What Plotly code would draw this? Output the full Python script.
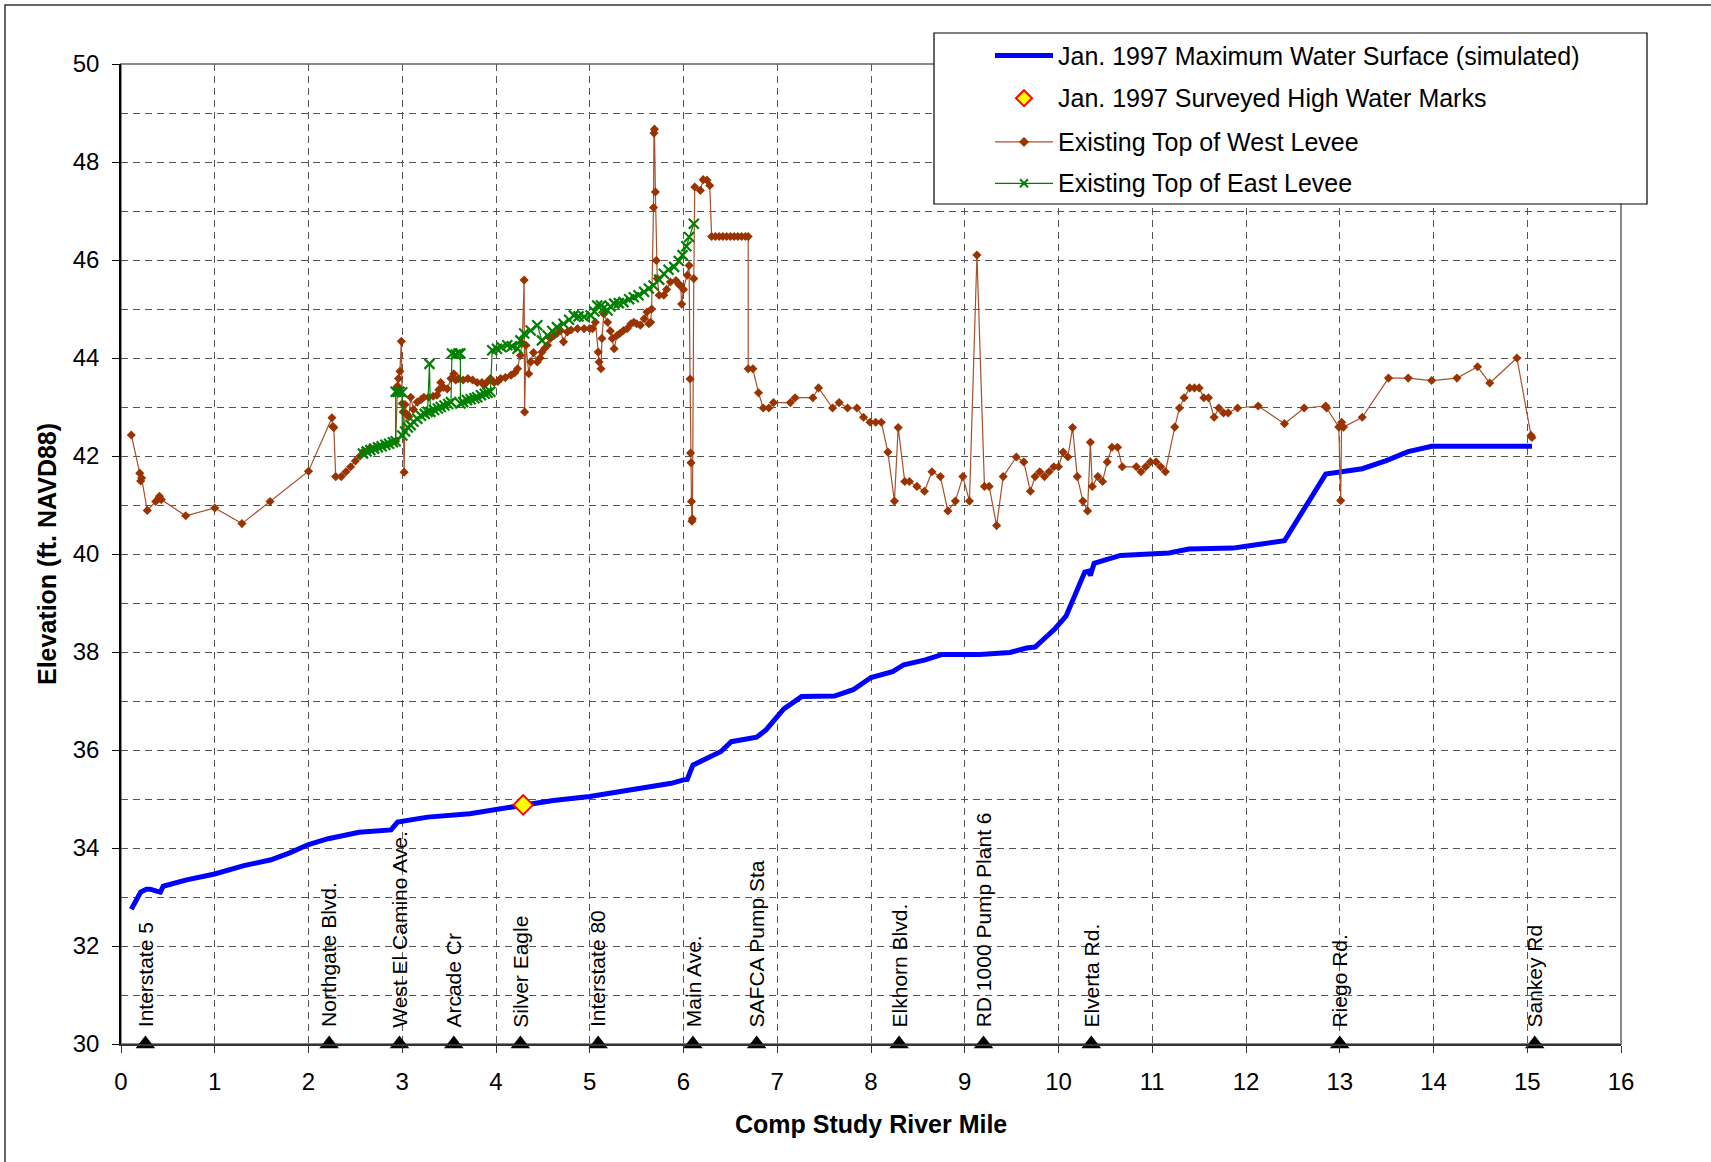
import plotly.graph_objects as go

FONT = "Liberation Sans, Arial, sans-serif"

# ---------------- data ----------------
ws_mile = [0.11, 0.21, 0.27, 0.31, 0.38, 0.42, 0.45, 0.70, 1.00, 1.31, 1.60, 1.80, 2.00, 2.21,
           2.54, 2.88, 2.95, 3.27, 3.72, 4.00, 4.21, 4.29, 4.61, 5.00, 5.27, 5.59, 5.87, 6.00,
           6.04, 6.10, 6.40, 6.51, 6.78, 6.88, 7.07, 7.26, 7.61, 7.81, 8.00, 8.23, 8.35, 8.58,
           8.76, 9.16, 9.48, 9.66, 9.75, 9.96, 10.08, 10.28, 10.32, 10.34, 10.38, 10.66, 11.18,
           11.39, 11.86, 12.00, 12.41, 12.85, 13.24, 13.49, 13.73, 13.98, 15.05]
ws_elev = [32.75, 33.10, 33.16, 33.16, 33.12, 33.10, 33.22, 33.35, 33.47, 33.64, 33.76, 33.90,
           34.07, 34.19, 34.32, 34.37, 34.53, 34.63, 34.70, 34.78, 34.85, 34.87, 34.97, 35.05,
           35.14, 35.23, 35.32, 35.39, 35.40, 35.69, 35.97, 36.17, 36.26, 36.41, 36.84, 37.09,
           37.10, 37.23, 37.48, 37.60, 37.74, 37.84, 37.95, 37.95, 37.99, 38.08, 38.10, 38.47,
           38.73, 39.63, 39.65, 39.56, 39.81, 39.97, 40.02, 40.10, 40.12, 40.16, 40.27, 41.63,
           41.74, 41.90, 42.09, 42.20, 42.20]

hwm_mile = [4.29]
hwm_elev = [34.88]

west_mile = [0.11, 0.20, 0.21, 0.22, 0.28, 0.37, 0.40, 0.41, 0.43, 0.69, 1.00, 1.29, 1.59, 2.00,
             2.25, 2.26, 2.27, 2.29, 2.35, 2.40, 2.45, 2.50, 2.55, 2.59, 2.65, 2.72, 2.80, 2.88,
             2.93, 2.95, 2.96, 2.975, 2.99, 3.00, 3.01, 3.02, 3.03, 3.05, 3.07, 3.09, 3.12, 3.16,
             3.20, 3.23, 3.28, 3.33, 3.37, 3.39, 3.41, 3.44, 3.48, 3.52, 3.55, 3.57, 3.60, 3.65,
             3.70, 3.75, 3.80, 3.85, 3.87, 3.90, 3.94, 3.98, 4.02, 4.05, 4.10, 4.16, 4.20, 4.23,
             4.26, 4.28, 4.30, 4.305, 4.32, 4.35, 4.37, 4.40, 4.44, 4.47, 4.49, 4.52, 4.55, 4.58,
             4.62, 4.65, 4.69, 4.72, 4.76, 4.80, 4.87, 4.94, 5.00, 5.03, 5.06, 5.09, 5.10, 5.12,
             5.13, 5.15, 5.19, 5.22, 5.24, 5.26, 5.29, 5.32, 5.36, 5.40, 5.44, 5.47, 5.50, 5.54,
             5.58, 5.61, 5.63, 5.65, 5.66, 5.68, 5.685, 5.69, 5.70, 5.71, 5.72, 5.74, 5.79, 5.82,
             5.86, 5.92, 5.95, 5.97, 5.98, 6.00, 6.04, 6.06, 6.07, 6.075, 6.08, 6.085, 6.09, 6.095,
             6.11, 6.12, 6.18, 6.21, 6.25, 6.28, 6.30, 6.34, 6.38, 6.42, 6.46, 6.50, 6.54, 6.58,
             6.62, 6.66, 6.69, 6.69, 6.74, 6.80, 6.85, 6.91, 6.96, 7.14, 7.19, 7.38, 7.44, 7.59,
             7.66, 7.75, 7.85, 7.92, 7.99, 8.05, 8.11, 8.18, 8.25, 8.29, 8.36, 8.41, 8.49, 8.57,
             8.65, 8.74, 8.82, 8.90, 8.98, 9.05, 9.13, 9.21, 9.26, 9.34, 9.41, 9.55, 9.63, 9.70,
             9.75, 9.80, 9.85, 9.90, 9.95, 10.00, 10.05, 10.10, 10.15, 10.20, 10.26, 10.31, 10.34,
             10.36, 10.42, 10.47, 10.52, 10.57, 10.63, 10.68, 10.83, 10.88, 10.93, 10.98, 11.04,
             11.09, 11.14, 11.24, 11.29, 11.34, 11.40, 11.45, 11.50, 11.55, 11.60, 11.66, 11.71,
             11.76, 11.81, 11.91, 12.13, 12.41, 12.62, 12.85, 12.86, 12.99, 13.01, 13.02, 13.04,
             13.24, 13.52, 13.73, 13.98, 14.25, 14.47, 14.60, 14.89, 15.04, 15.05]
west_elev = [42.43, 41.65, 41.49, 41.55, 40.89, 41.07, 41.13, 41.18, 41.11, 40.78, 40.94, 40.62,
             41.07, 41.69, 42.78, 42.60, 42.58, 41.58, 41.58, 41.68, 41.78, 41.90, 42.00, 42.10,
             42.15, 42.18, 42.22, 42.26, 42.30, 43.43, 43.58, 43.73, 44.34, 43.07, 42.90, 41.67,
             43.05, 42.85, 42.80, 43.20, 42.95, 43.10, 43.15, 43.20, 43.20, 43.22, 43.24, 43.35,
             43.50, 43.40, 43.37, 43.58, 43.68, 43.55, 43.58, 43.55, 43.58, 43.55, 43.50, 43.50,
             43.45, 43.50, 43.58, 43.50, 43.52, 43.58, 43.60, 43.65, 43.70, 43.78, 44.05, 44.30,
             45.59, 42.90, 44.26, 43.68, 43.92, 44.11, 43.92, 44.00, 44.12, 44.20, 44.26, 44.40,
             44.46, 44.50, 44.56, 44.33, 44.53, 44.57, 44.60, 44.60, 44.60, 44.60, 44.73, 44.12,
             43.92, 43.78, 44.40, 44.90, 44.73, 44.55, 44.40, 44.19, 44.46, 44.50, 44.56, 44.60,
             44.70, 44.73, 44.70, 44.67, 44.80, 44.94, 44.70, 44.73, 45.00, 47.07, 48.59, 48.67,
             47.39, 45.99, 45.62, 45.28, 45.28, 45.40, 45.55, 45.58, 45.50, 45.48, 45.10, 45.40,
             45.69, 45.89, 43.57, 42.06, 41.86, 41.07, 40.67, 40.72, 45.62, 47.49, 47.42, 47.64,
             47.63, 47.52, 46.48, 46.48, 46.48, 46.48, 46.48, 46.48, 46.48, 46.48, 46.48, 46.48,
             46.48, 43.78, 43.78, 43.29, 42.98, 42.98, 43.09, 43.09, 43.19, 43.19, 43.39, 42.98,
             43.09, 42.98, 42.98, 42.79, 42.69, 42.69, 42.69, 42.08, 41.08, 42.58, 41.48, 41.48,
             41.38, 41.28, 41.68, 41.58, 40.88, 41.08, 41.58, 41.08, 46.10, 41.38, 41.38, 40.58,
             41.58, 41.98, 41.88, 41.28, 41.58, 41.68, 41.58, 41.68, 41.78, 41.78, 42.08, 41.98,
             42.58, 41.58, 41.08, 40.88, 42.28, 41.38, 41.58, 41.48, 41.88, 42.18, 42.18, 41.78,
             41.78, 41.68, 41.78, 41.88, 41.88, 41.78, 41.68, 42.59, 42.98, 43.19, 43.39, 43.39,
             43.39, 43.19, 43.19, 42.79, 42.98, 42.88, 42.88, 42.98, 43.02, 42.66, 42.98, 43.02,
             42.98, 42.59, 41.09, 42.69, 42.59, 42.79, 43.59, 43.59, 43.54, 43.59, 43.82, 43.49,
             44.00, 42.42, 42.38]

east_mile = [2.58, 2.62, 2.66, 2.70, 2.74, 2.78, 2.82, 2.86, 2.90, 2.93, 2.93, 2.95, 2.97, 3.00,
             3.00, 3.03, 3.06, 3.09, 3.12, 3.16, 3.20, 3.24, 3.27, 3.29, 3.30, 3.34, 3.38, 3.41,
             3.45, 3.49, 3.52, 3.53, 3.57, 3.60, 3.62, 3.62, 3.65, 3.69, 3.73, 3.77, 3.80, 3.84,
             3.88, 3.91, 3.94, 3.96, 4.01, 4.06, 4.12, 4.17, 4.23, 4.26, 4.30, 4.37, 4.44, 4.49,
             4.55, 4.60, 4.65, 4.72, 4.78, 4.83, 4.88, 4.94, 5.01, 5.05, 5.08, 5.12, 5.15, 5.19,
             5.22, 5.26, 5.31, 5.36, 5.42, 5.47, 5.52, 5.58, 5.63, 5.68, 5.74, 5.79, 5.84, 5.90,
             5.95, 5.99, 6.03, 6.06, 6.11]
east_elev = [42.05, 42.09, 42.12, 42.15, 42.18, 42.20, 42.23, 42.25, 42.28, 42.30, 43.31, 43.31,
             43.31, 43.30, 42.42, 42.50, 42.58, 42.63, 42.70, 42.76, 42.82, 42.86, 42.90, 43.88,
             42.90, 42.94, 42.97, 43.00, 43.03, 43.06, 43.10, 44.09, 44.07, 44.09, 44.09, 43.07,
             43.10, 43.14, 43.16, 43.18, 43.20, 43.24, 43.27, 43.29, 43.31, 44.16, 44.19, 44.22,
             44.26, 44.24, 44.19, 44.36, 44.50, 44.56, 44.67, 44.36, 44.46, 44.55, 44.63, 44.70,
             44.78, 44.87, 44.85, 44.84, 44.87, 44.95, 45.07, 45.07, 45.02, 44.97, 45.05, 45.11,
             45.12, 45.14, 45.20, 45.24, 45.28, 45.35, 45.42, 45.48, 45.60, 45.72, 45.80, 45.86,
             45.98, 46.10, 46.28, 46.47, 46.74]

landmark_names = ["Interstate 5", "Northgate Blvd.", "West El Camino Ave.", "Arcade Cr",
                  "Silver Eagle", "Interstate 80", "Main Ave.", "SAFCA Pump Sta",
                  "Elkhorn Blvd.", "RD 1000 Pump Plant 6", "Elverta Rd.", "Riego Rd.", "Sankey Rd"]
landmark_mile = [0.26, 2.22, 2.97, 3.55, 4.26, 5.09, 6.10, 6.78, 8.30, 9.20, 10.35, 13.00, 15.08]

legend_names = ["Jan. 1997 Maximum Water Surface (simulated)", "Jan. 1997 Surveyed High Water Marks",
                "Existing Top of West Levee", "Existing Top of East Levee"]

x_ticks = list(range(0, 17))
y_ticks = list(range(30, 51, 2))

# ---------------- styles ----------------
BLUE = dict(color="#0000FF", width=5)
HWM_MARKER = dict(symbol="diamond", size=15, color="#FFFF00", line=dict(color="#FF0000", width=2))
WEST_LINE = dict(color="#A8502A", width=1.2)
WEST_MARKER = dict(symbol="diamond", size=7, color="#993300")
EAST_LINE = dict(color="#008000", width=1.2)
EAST_MARKER = dict(symbol="x-thin", size=10, color="#008000", line=dict(color="#008000", width=2.2))

fig = go.Figure()

fig.add_trace(go.Scatter(x=ws_mile, y=ws_elev, mode="lines", name=legend_names[0],
                         line=BLUE, showlegend=False))
fig.add_trace(go.Scatter(x=hwm_mile, y=hwm_elev, mode="markers", name=legend_names[1],
                         marker=HWM_MARKER, showlegend=False))
fig.add_trace(go.Scatter(x=west_mile, y=west_elev, mode="lines+markers", name=legend_names[2],
                         line=WEST_LINE, marker=WEST_MARKER, showlegend=False))
fig.add_trace(go.Scatter(x=east_mile, y=east_elev, mode="lines+markers", name=legend_names[3],
                         line=EAST_LINE, marker=EAST_MARKER, showlegend=False))
fig.add_trace(go.Scatter(x=landmark_mile, y=[30] * len(landmark_mile), mode="markers",
                         showlegend=False, marker=dict(symbol="triangle-up", size=17, color="black"),
                         cliponaxis=False, hoverinfo="skip"))

for name, m in zip(landmark_names, landmark_mile):
    fig.add_annotation(x=m, y=30.3, text=name, textangle=-90, showarrow=False,
                       xanchor="center", yanchor="bottom",
                       font=dict(family=FONT, size=21, color="black"))

# ---------------- legend box (paper space) ----------------
L, T, W, H = 121, 64, 1500, 980          # plot-area geometry in px
def px(xp):
    return (xp - L) / W
def py(yp):
    return (T + H - yp) / H

fig.add_shape(type="rect", xref="paper", yref="paper",
              x0=px(934), x1=px(1647), y0=py(204), y1=py(33),
              line=dict(color="black", width=1.2), fillcolor="white", layer="above")

row_px = [55.6, 98.2, 141.9, 183.3]
sx0, sx1, sxc, tx = 995, 1053, 1024, 1056

def diamond_path(cx, cy, r):
    return (f"M {px(cx - r)},{py(cy)} L {px(cx)},{py(cy - r)} "
            f"L {px(cx + r)},{py(cy)} L {px(cx)},{py(cy + r)} Z")

def hline(cy, color, width):
    fig.add_shape(type="line", xref="paper", yref="paper", x0=px(sx0), x1=px(sx1),
                  y0=py(cy), y1=py(cy), line=dict(color=color, width=width), layer="above")

# row 1: water surface line
hline(row_px[0], BLUE["color"], 5)
# row 2: high water mark diamond
fig.add_shape(type="path", xref="paper", yref="paper", path=diamond_path(sxc, row_px[1], 8),
              fillcolor="#FFFF00", line=dict(color="#FF0000", width=2), layer="above")
# row 3: west levee line + small diamond
hline(row_px[2], WEST_LINE["color"], 1.2)
fig.add_shape(type="path", xref="paper", yref="paper", path=diamond_path(sxc, row_px[2], 4.5),
              fillcolor="#993300", line=dict(color="#993300", width=1), layer="above")
# row 4: east levee line + x
hline(row_px[3], EAST_LINE["color"], 1.2)
for d in (1, -1):
    fig.add_shape(type="line", xref="paper", yref="paper",
                  x0=px(sxc - 4), x1=px(sxc + 4), y0=py(row_px[3] - 4 * d), y1=py(row_px[3] + 4 * d),
                  line=dict(color="#008000", width=2), layer="above")

for name, cy in zip(legend_names, row_px):
    fig.add_annotation(xref="paper", yref="paper", x=px(tx), y=py(cy), text=name,
                       showarrow=False, xanchor="left", yanchor="middle",
                       font=dict(family=FONT, size=25, color="black"))

# axis titles
fig.add_annotation(xref="paper", yref="paper", x=0.5, y=py(1124), text="<b>Comp Study River Mile</b>",
                   showarrow=False, xanchor="center", yanchor="middle",
                   font=dict(family=FONT, size=25, color="black"))
fig.add_annotation(xref="paper", yref="paper", x=px(47), y=0.5, text="<b>Elevation (ft. NAVD88)</b>",
                   showarrow=False, textangle=-90, xanchor="center", yanchor="middle",
                   font=dict(family=FONT, size=25, color="black"))

# plot area border (gray) and outer chart border
fig.add_shape(type="rect", xref="paper", yref="paper", x0=0, y0=0, x1=1, y1=1,
              line=dict(color="#8a8a8a", width=2), layer="below")
fig.add_shape(type="rect", xref="paper", yref="paper", x0=px(5), y0=py(1170), x1=px(1720), y1=py(5),
              line=dict(color="#333333", width=1.5), layer="below")

grid = dict(gridcolor="#555555", griddash="7px,5px", gridwidth=1)

fig.update_layout(
    xaxis=dict(range=[0, 16], tickvals=x_ticks, showgrid=True, **grid,
               showline=True, linecolor="#333333", linewidth=2,
               ticks="outside", ticklen=7, tickcolor="#333333", ticklabelstandoff=8,
               tickfont=dict(family=FONT, size=24, color="black"), zeroline=False),
    yaxis=dict(range=[30, 50], tickvals=y_ticks, showgrid=True, **grid,
               minor=dict(dtick=1, showgrid=True, gridcolor="#555555", griddash="7px,5px"),
               showline=True, linecolor="black", linewidth=1.5,
               ticks="outside", ticklen=7, tickcolor="black", ticklabelstandoff=8,
               tickfont=dict(family=FONT, size=24, color="black"), zeroline=False),
    width=1711, height=1162,
    margin=dict(l=L, r=1711 - L - W, t=T, b=1162 - T - H),
    paper_bgcolor="white", plot_bgcolor="white",
    font=dict(family=FONT, color="black"),
    showlegend=False,
)

fig.write_html("out.html", config={"displayModeBar": False},
               post_script="document.body.style.margin='0';document.body.style.overflow='hidden';")
